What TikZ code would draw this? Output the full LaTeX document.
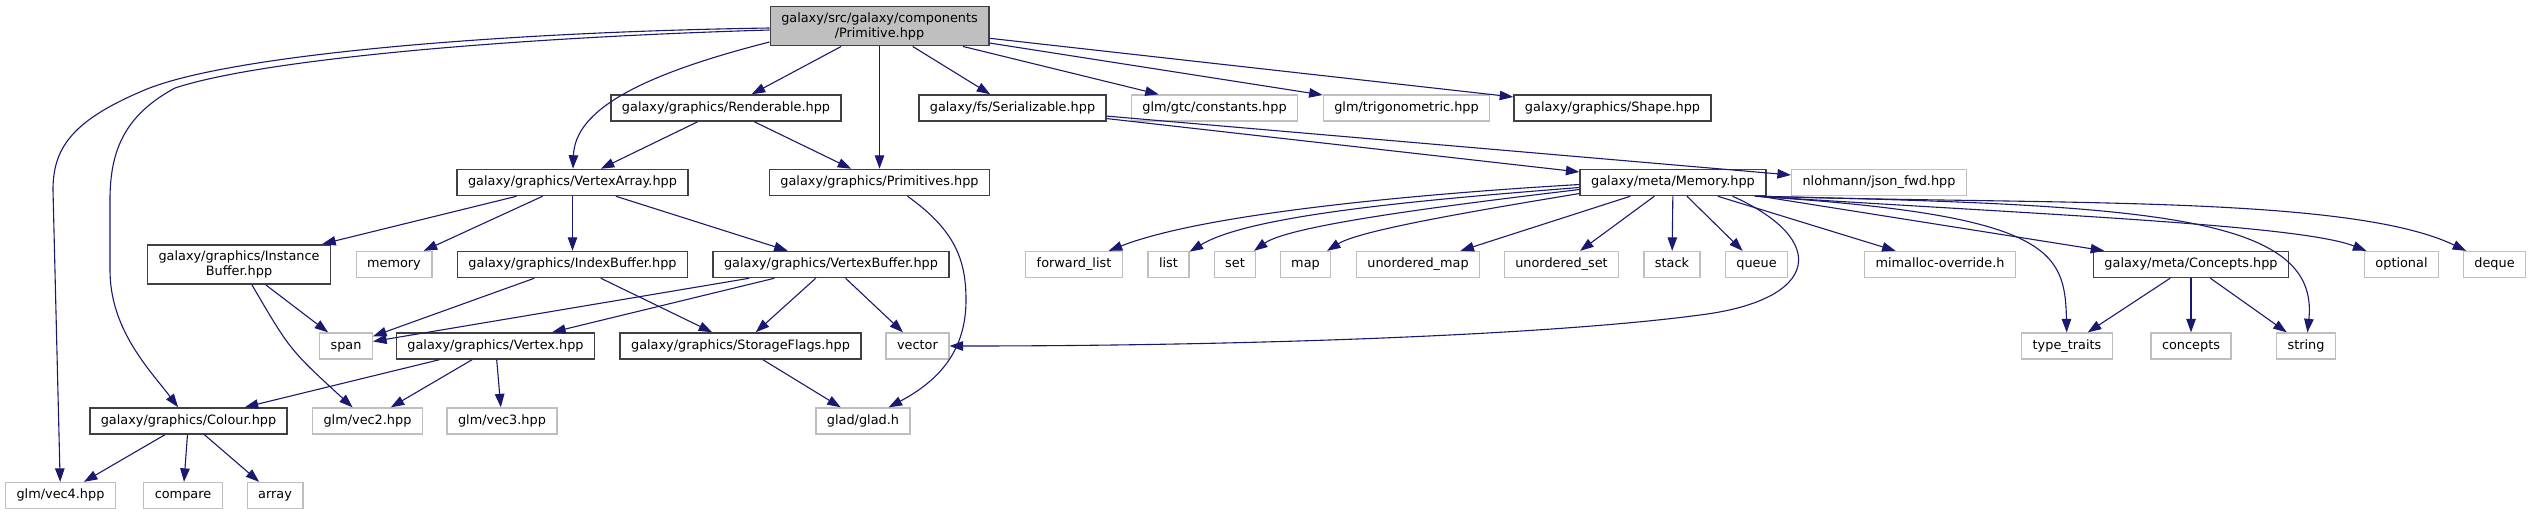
\documentclass[tikz,border=0pt]{standalone}
\usepackage{fontspec}
\setmainfont{DejaVu Sans}
\usepackage{xcolor}
\usepackage{tikz}
\usetikzlibrary{arrows.meta}
\definecolor{edgeblue}{HTML}{191970}
\definecolor{docgrey}{HTML}{404040}
\definecolor{extgrey}{HTML}{BFBFBF}
\definecolor{rootfill}{HTML}{BFBFBF}
\tikzset{
  filebase/.style={rectangle, fill=white, align=center, inner xsep=11pt, inner ysep=6pt, minimum height=26pt, font=\fontsize{12.85}{15}\selectfont},
  docbox/.style={filebase, draw=docgrey, line width=1.5pt, text height=9.8pt, text depth=3pt},
  extbox/.style={filebase, draw=extgrey, line width=1.3pt, text height=9.8pt, text depth=3pt},
  docbox2/.style={filebase, draw=docgrey, line width=1.5pt},
  rootbox/.style={docbox2, fill=rootfill},
  arrow/.style={-{Triangle[length=13.5pt, width=9.5pt]}, line width=1.1pt, color=edgeblue},
}

\begin{document}
\begin{tikzpicture}[x=1pt, y=-1pt]
  \useasboundingbox (0,0) rectangle (2532,515);
  \node[rootbox] (prim) at (879.5,26) {galaxy/src/galaxy/components\\/Primitive.hpp};
  \node[docbox] (renderable) at (726,108) {galaxy/graphics/Renderable.hpp};
  \node[docbox] (serializable) at (1012.5,108) {galaxy/fs/Serializable.hpp};
  \node[extbox] (constants) at (1214.5,108) {glm/gtc/constants.hpp};
  \node[extbox] (trig) at (1406.5,108) {glm/trigonometric.hpp};
  \node[docbox] (shapehpp) at (1612.5,108) {galaxy/graphics/Shape.hpp};
  \node[docbox] (vertexarray) at (572.5,182.5) {galaxy/graphics/VertexArray.hpp};
  \node[docbox] (primitives) at (879.5,182.5) {galaxy/graphics/Primitives.hpp};
  \node[docbox] (memhpp) at (1673,182.5) {galaxy/meta/Memory.hpp};
  \node[extbox] (jsonfwd) at (1879,182.5) {nlohmann/json\_fwd.hpp};
  \node[docbox2] (instbuf) at (239,264.5) {galaxy/graphics/Instance\\Buffer.hpp};
  \node[extbox] (memorystd) at (394,264.5) {memory};
  \node[docbox] (indexbuf) at (572.5,264.5) {galaxy/graphics/IndexBuffer.hpp};
  \node[docbox] (vertexbuf) at (831,264.5) {galaxy/graphics/VertexBuffer.hpp};
  \node[extbox] (fwdlist) at (1074,264.5) {forward\_list};
  \node[extbox] (list) at (1168.5,264.5) {list};
  \node[extbox] (set) at (1235,264.5) {set};
  \node[extbox] (map) at (1305.5,264.5) {map};
  \node[extbox] (umap) at (1418,264.5) {unordered\_map};
  \node[extbox] (uset) at (1561.5,264.5) {unordered\_set};
  \node[extbox] (stack) at (1672,264.5) {stack};
  \node[extbox] (queue) at (1756.5,264.5) {queue};
  \node[extbox] (mimalloc) at (1940,264.5) {mimalloc-override.h};
  \node[docbox] (conchpp) at (2191,264.5) {galaxy/meta/Concepts.hpp};
  \node[extbox] (optional) at (2401.5,264.5) {optional};
  \node[extbox] (deque) at (2494.5,264.5) {deque};
  \node[extbox] (span) at (346,346) {span};
  \node[docbox] (vertex) at (495.5,346) {galaxy/graphics/Vertex.hpp};
  \node[docbox] (storage) at (740.5,346) {galaxy/graphics/StorageFlags.hpp};
  \node[extbox] (vector) at (917.5,346) {vector};
  \node[extbox] (typetraits) at (2067,346) {type\_traits};
  \node[extbox] (conceptsstd) at (2191,346) {concepts};
  \node[extbox] (string) at (2306,346) {string};
  \node[docbox] (colour) at (188.5,421) {galaxy/graphics/Colour.hpp};
  \node[extbox] (vectwo) at (367.5,421) {glm/vec2.hpp};
  \node[extbox] (vecthree) at (502,421) {glm/vec3.hpp};
  \node[extbox] (glad) at (863,421) {glad/glad.h};
  \node[extbox] (vecfour) at (60.5,495.5) {glm/vec4.hpp};
  \node[extbox] (compare) at (183,495.5) {compare};
  \node[extbox] (array) at (275,495.5) {array};

  \draw[arrow] ([yshift=-2pt]prim.west) .. controls (500,32) and (220,55) .. (140,92) .. controls (70,122) and (53,150) .. (53,190) -- (vecfour);
  \draw[arrow] ([yshift=-4pt]prim.west) .. controls (500,38) and (260,60) .. (175,88) .. controls (125,115) and (110,150) .. (110,200) -- (110,270) .. controls (110,330) and (150,370) .. (colour);
  \draw[arrow] ([yshift=-16pt]prim.west) .. controls (640,75) and (575,110) .. (vertexarray);
  \draw[arrow] (prim) -- (renderable);
  \draw[arrow] (prim) -- (primitives);
  \draw[arrow] (prim) -- (serializable);
  \draw[arrow] (prim) -- (constants);
  \draw[arrow] (prim) -- (trig);
  \draw[arrow] (prim) -- (shapehpp);
  \draw[arrow] (renderable) -- (vertexarray);
  \draw[arrow] (renderable) -- (primitives);
  \draw[arrow] (serializable) -- (memhpp);
  \draw[arrow] (serializable) -- (jsonfwd);
  \draw[arrow] (vertexarray) -- (instbuf);
  \draw[arrow] (vertexarray) -- (memorystd);
  \draw[arrow] (vertexarray) -- (indexbuf);
  \draw[arrow] (vertexarray) -- (vertexbuf);
  \draw[arrow] ([xshift=28pt]primitives.south) .. controls (955,230) and (966,260) .. (966,300) .. controls (966,350) and (940,380) .. (glad);
  \draw[arrow] (instbuf) -- (span);
  \draw[arrow] ([xshift=13pt]instbuf.south) .. controls (290,350) .. (vectwo);
  \draw[arrow] (indexbuf) -- (span);
  \draw[arrow] (indexbuf) -- (storage);
  \draw[arrow] (vertexbuf) -- (span);
  \draw[arrow] (vertexbuf) -- (vertex);
  \draw[arrow] (vertexbuf) -- (storage);
  \draw[arrow] (vertexbuf) -- (vector);
  \draw[arrow] (vertex) -- (colour);
  \draw[arrow] (vertex) -- (vectwo);
  \draw[arrow] (vertex) -- (vecthree);
  \draw[arrow] (storage) -- (glad);
  \draw[arrow] (colour) -- (vecfour);
  \draw[arrow] (colour) -- (compare);
  \draw[arrow] (colour) -- (array);

  \draw[arrow] ([yshift=-2pt]memhpp.west) .. controls (1400,195) and (1200,215) .. (fwdlist);
  \draw[arrow] ([yshift=-5pt]memhpp.west) .. controls (1420,200) and (1250,215) .. (list);
  \draw[arrow] ([yshift=-7pt]memhpp.west) .. controls (1450,205) and (1290,225) .. (set);
  \draw[arrow] ([yshift=-11pt]memhpp.west) .. controls (1480,210) and (1360,230) .. (map);
  \draw[arrow] (memhpp) -- (umap);
  \draw[arrow] (memhpp) -- (uset);
  \draw[arrow] (memhpp) -- (stack);
  \draw[arrow] (memhpp) -- (queue);
  \draw[arrow] ([xshift=-34pt]memhpp.south east) .. controls (1830,240) and (1820,300) .. (1700,315) .. controls (1550,335) and (1250,346) .. (vector.east);
  \draw[arrow] (memhpp) -- (mimalloc);
  \draw[arrow] (memhpp) -- (conchpp);
  \draw[arrow] ([xshift=-12pt]memhpp.south east) .. controls (2050,215) and (2065,250) .. (typetraits);
  \draw[arrow] ([xshift=-8pt]memhpp.south east) .. controls (2150,205) and (2320,215) .. (string);
  \draw[arrow] ([xshift=-10pt]memhpp.south east) .. controls (2050,215) and (2300,225) .. (optional);
  \draw[arrow] ([xshift=-6pt]memhpp.south east) .. controls (2050,205) and (2350,195) .. (deque);
  \draw[arrow] (conchpp) -- (typetraits);
  \draw[arrow] (conchpp) -- (conceptsstd);
  \draw[arrow] (conchpp) -- (string);
\end{tikzpicture}
\end{document}
